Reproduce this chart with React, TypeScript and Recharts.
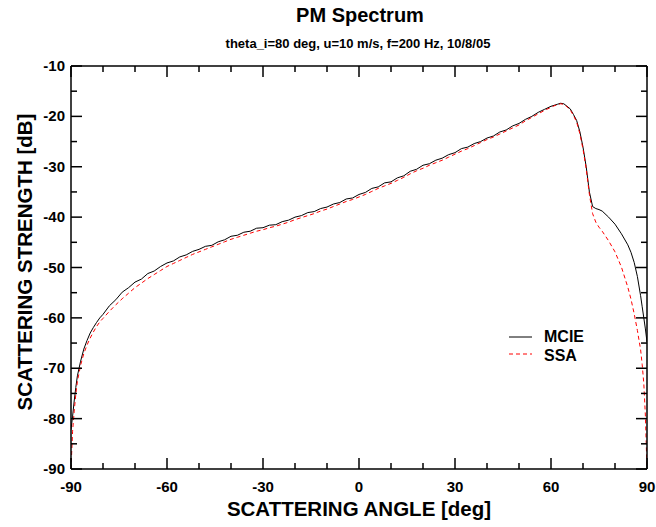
import { LineChart, Line, XAxis, YAxis } from 'recharts';

// scattering angle [deg]
const ANGLES = [
  -90, -89.5, -89, -88.5, -88, -87, -86, -85, -84, -83, -82, -81,
  -80, -78, -76, -74, -72, -70, -68, -66, -64, -62, -60, -58, -56, -54, -52, -50,
  -48, -46, -44, -42, -40, -38, -36, -34, -32, -30, -28, -26, -24, -22, -20, -18,
  -16, -14, -12, -10, -8, -6, -4, -2, 0, 2, 4, 6, 8, 10, 12, 14, 16, 18, 20, 22,
  24, 26, 28, 30, 32, 34, 36, 38, 40, 42, 44, 46, 48, 50, 52, 54, 56, 58, 60,
  61, 62, 63, 64, 65, 66, 67, 68, 69, 70, 71, 72, 73, 74, 75, 76, 78, 80, 82, 84,
  85, 86, 87, 88, 88.5, 89, 89.5, 90,
];

// MCIE scattering strength [dB]
const MCIE = [
  -82.2, -79.5, -76.5, -73.8, -71.5, -68.6, -66.2, -64.5, -63.0, -61.9, -60.9, -60.0,
  -59.3, -57.6, -56.4, -54.9, -54.0, -52.9, -52.3, -51.2, -50.7, -49.8, -49.1, -48.7, -47.9, -47.5, -46.8, -46.4,
  -45.8, -45.6, -44.9, -44.5, -43.8, -43.6, -43.0, -42.8, -42.2, -42.1, -41.6, -41.5, -40.9, -40.6, -40.0, -39.7,
  -39.1, -38.9, -38.3, -38.0, -37.4, -37.1, -36.4, -36.2, -35.5, -35.1, -34.3, -34.0, -33.2, -33.0, -32.2, -31.8, -30.9, -30.5, -29.7, -29.4,
  -28.7, -28.3, -27.6, -27.2, -26.4, -26.1, -25.4, -25.0, -24.3, -23.9, -23.1, -22.7, -21.9, -21.4, -20.6, -20.0, -19.2, -18.6, -18.0,
  -17.8, -17.6, -17.4, -17.5, -18.0, -18.5, -19.6, -20.8, -23.0, -26.1, -30.0, -35.0, -37.9, -38.3, -38.5, -38.8, -40.0, -41.4, -43.3, -45.5,
  -47.0, -49.0, -51.8, -55.6, -57.8, -60.0, -62.2, -64.8,
];

// SSA scattering strength [dB]
const SSA = [
  -90.0, -82.5, -78.5, -75.2, -72.6, -69.4, -67.1, -65.4, -64.0, -62.8, -61.7, -60.8,
  -60.1, -58.7, -57.4, -56.2, -55.1, -54.0, -53.1, -52.2, -51.4, -50.6, -49.8, -49.2, -48.6, -48.0, -47.4, -46.9,
  -46.4, -45.9, -45.4, -44.9, -44.4, -44.0, -43.6, -43.2, -42.8, -42.5, -42.1, -41.8, -41.4, -41.0, -40.5, -40.1,
  -39.7, -39.3, -38.8, -38.4, -37.9, -37.4, -36.9, -36.5, -36.0, -35.5, -34.9, -34.3, -33.8, -33.3, -32.7, -32.1, -31.4, -30.8, -30.3, -29.7,
  -29.2, -28.7, -28.1, -27.5, -26.9, -26.4, -25.8, -25.2, -24.6, -24.1, -23.5, -22.9, -22.3, -21.7, -20.9, -20.2, -19.5, -18.8, -18.2,
  -17.9, -17.7, -17.5, -17.6, -18.1, -18.7, -19.8, -21.1, -23.4, -26.5, -30.4, -35.5, -39.3, -41.0, -42.0, -42.8, -44.7, -46.9, -49.9, -53.9,
  -56.3, -59.2, -62.5, -66.3, -69.3, -73.0, -79.5, -90.0,
];

const X_TICKS = [-90, -80, -70, -60, -50, -40, -30, -20, -10, 0, 10, 20, 30, 40, 50, 60, 70, 80, 90];
const Y_TICKS = [-90, -85, -80, -75, -70, -65, -60, -55, -50, -45, -40, -35, -30, -25, -20, -15, -10];

const data = ANGLES.map((a, i) => ({ angle: a, mcie: MCIE[i], ssa: SSA[i] }));

const FONT = '"Liberation Sans", Arial, Helvetica, sans-serif';
const MAJOR = 11;
const MINOR = 6;

function BottomTick(props: any) {
  const { x, y, payload } = props;
  const v = payload.value;
  const major = v % 30 === 0;
  return (
    <g>
      <line x1={x} x2={x} y1={y} y2={y - (major ? MAJOR : MINOR)} stroke="#000" strokeWidth={1.5} />
      {major && (
        <text x={x} y={y + 23} textAnchor="middle" fontSize={15} fontWeight="bold" fontFamily={FONT} fill="#000">
          {v}
        </text>
      )}
    </g>
  );
}

function TopTick(props: any) {
  const { x, y, payload } = props;
  const major = payload.value % 30 === 0;
  return <line x1={x} x2={x} y1={y} y2={y + (major ? MAJOR : MINOR)} stroke="#000" strokeWidth={1.5} />;
}

function LeftTick(props: any) {
  const { x, y, payload } = props;
  const v = payload.value;
  const major = v % 10 === 0;
  return (
    <g>
      <line x1={x} x2={x + (major ? MAJOR : MINOR)} y1={y} y2={y} stroke="#000" strokeWidth={1.5} />
      {major && (
        <text x={x - 6} y={y + 5} textAnchor="end" fontSize={15} fontWeight="bold" fontFamily={FONT} fill="#000">
          {v}
        </text>
      )}
    </g>
  );
}

function RightTick(props: any) {
  const { x, y, payload } = props;
  const major = payload.value % 10 === 0;
  return <line x1={x} x2={x - (major ? MAJOR : MINOR)} y1={y} y2={y} stroke="#000" strokeWidth={1.5} />;
}

const axisLine = { stroke: '#000', strokeWidth: 1.5 };

export default function App() {
  return (
    <div style={{ position: 'absolute', left: 0, top: 0, width: 656, height: 527, background: '#fff', fontFamily: FONT }}>
      <div style={{ position: 'absolute', left: 0, width: 720, top: 4, textAlign: 'center', fontSize: 20, fontWeight: 'bold' }}>
        PM Spectrum
      </div>
      <div style={{ position: 'absolute', left: 0, width: 716, top: 36, textAlign: 'center', fontSize: 13, fontWeight: 'bold' }}>
        theta_i=80 deg, u=10 m/s, f=200 Hz, 10/8/05
      </div>
      <LineChart width={656} height={527} data={data} margin={{ top: 46, right: 4, bottom: 28, left: 31 }}>
        <XAxis
          xAxisId="b"
          dataKey="angle"
          type="number"
          domain={[-90, 90]}
          allowDataOverflow
          ticks={X_TICKS}
          interval={0}
          height={30}
          tickSize={0}
          tickMargin={0}
          tickLine={false}
          axisLine={axisLine}
          tick={<BottomTick />}
        />
        <XAxis
          xAxisId="t"
          orientation="top"
          dataKey="angle"
          type="number"
          domain={[-90, 90]}
          allowDataOverflow
          ticks={X_TICKS}
          interval={0}
          height={20}
          tickSize={0}
          tickMargin={0}
          tickLine={false}
          axisLine={axisLine}
          tick={<TopTick />}
        />
        <YAxis
          yAxisId="l"
          type="number"
          domain={[-90, -10]}
          allowDataOverflow
          ticks={Y_TICKS}
          interval={0}
          width={40}
          tickSize={0}
          tickMargin={0}
          tickLine={false}
          axisLine={axisLine}
          tick={<LeftTick />}
        />
        <YAxis
          yAxisId="r"
          orientation="right"
          type="number"
          domain={[-90, -10]}
          allowDataOverflow
          ticks={Y_TICKS}
          interval={0}
          width={5}
          tickSize={0}
          tickMargin={0}
          tickLine={false}
          axisLine={axisLine}
          tick={<RightTick />}
        />
        <Line
          xAxisId="b"
          yAxisId="l"
          type="linear"
          dataKey="mcie"
          stroke="#000"
          strokeWidth={1}
          dot={false}
          isAnimationActive={false}
        />
        <Line
          xAxisId="b"
          yAxisId="l"
          type="linear"
          dataKey="ssa"
          stroke="#ff0000"
          strokeWidth={1}
          strokeDasharray="4 3"
          dot={false}
          isAnimationActive={false}
        />
      </LineChart>
      <div
        style={{
          position: 'absolute',
          left: 359 - 200,
          width: 400,
          top: 497,
          textAlign: 'center',
          fontSize: 20.5,
          fontWeight: 'bold',
        }}
      >
        SCATTERING ANGLE [deg]
      </div>
      <div
        style={{
          position: 'absolute',
          left: 25 - 200,
          top: 262 - 12,
          width: 400,
          height: 24,
          lineHeight: '24px',
          textAlign: 'center',
          fontSize: 20.5,
          fontWeight: 'bold',
          transform: 'rotate(-90deg)',
        }}
      >
        SCATTERING STRENGTH [dB]
      </div>
      <svg style={{ position: 'absolute', left: 505, top: 328 }} width={30} height={34}>
        <line x1={4} x2={27} y1={9} y2={9} stroke="#000" strokeWidth={1} />
        <line x1={4} x2={27} y1={26} y2={26} stroke="#ff0000" strokeWidth={1} strokeDasharray="4 3" />
      </svg>
      <div style={{ position: 'absolute', left: 544, top: 327, fontSize: 16, fontWeight: 'bold', lineHeight: '19px' }}>
        MCIE
        <br />
        SSA
      </div>
    </div>
  );
}
